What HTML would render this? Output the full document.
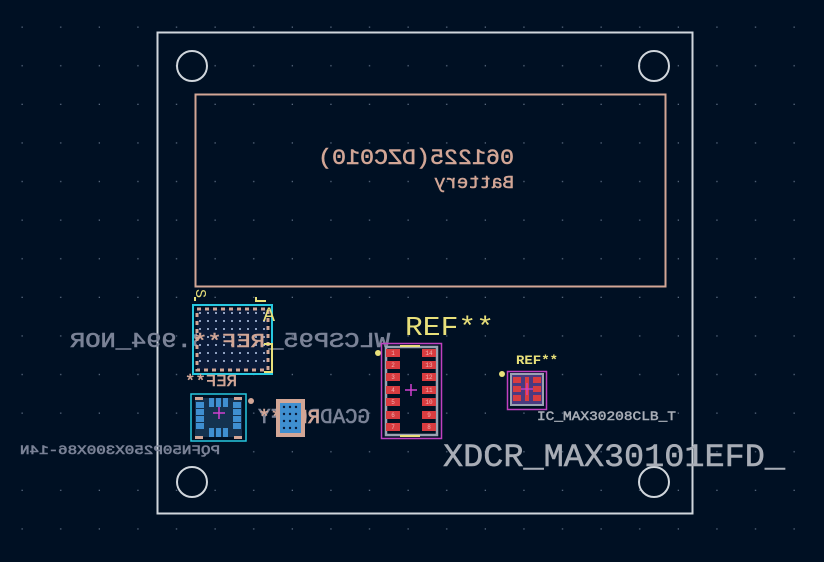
<!DOCTYPE html>
<html><head><style>
html,body{margin:0;padding:0;background:#001023;}
svg{display:block}
text{font-family:"Liberation Mono","DejaVu Sans Mono",monospace;}
</style></head><body>
<svg width="824" height="562" viewBox="0 0 824 562" xmlns="http://www.w3.org/2000/svg">
<defs>
<pattern id="g" x="3" y="8" width="38.6" height="38.6" patternUnits="userSpaceOnUse">
<rect x="18.5" y="18.5" width="1.3" height="1.3" fill="#5a6a80"/>
</pattern>
<pattern id="bd" x="196" y="309" width="8" height="8" patternUnits="userSpaceOnUse">
<rect x="3" y="3" width="2" height="2" fill="#8fa0c0"/>
</pattern>
</defs>
<rect width="824" height="562" fill="#001023"/>
<rect width="824" height="562" fill="url(#g)"/>

<rect x="157.5" y="32.5" width="535" height="481" fill="none" stroke="#d0d6dc" stroke-width="2"/>
<g fill="none" stroke="#d0d6dc" stroke-width="2">
<circle cx="192" cy="66" r="15"/><circle cx="654" cy="66" r="15"/>
<circle cx="192" cy="482" r="15"/><circle cx="654" cy="482" r="15"/>
</g>

<rect x="195.5" y="94.5" width="470" height="192" fill="none" stroke="#d2a696" stroke-width="2"/>
<g fill="#d2a696" stroke="#d2a696" stroke-width="0.5">
<text transform="translate(514,164) scale(-1,1)" font-size="22" textLength="196" lengthAdjust="spacingAndGlyphs">061225(DZC010)</text>
<text transform="translate(514,188) scale(-1,1)" font-size="18" textLength="80" lengthAdjust="spacingAndGlyphs">Battery</text>
</g>

<g fill="#7a8296" stroke="#7a8296" stroke-width="0.6">
<text transform="translate(390,347) scale(-1,1)" font-size="21" textLength="320" lengthAdjust="spacingAndGlyphs">WLCSP95_4.6X3.994_NOR</text>
<text transform="translate(370,423) scale(-1,1)" font-size="21" textLength="112" lengthAdjust="spacingAndGlyphs">GCADR0PFY</text>
<text transform="translate(220,454) scale(-1,1)" font-size="13" textLength="200" lengthAdjust="spacingAndGlyphs">PQFN50P250X300X86-14N</text>
</g>
<g fill="#a8adb6" stroke="#a8adb6" stroke-width="0.5">
<text x="537" y="420" font-size="13" textLength="139" lengthAdjust="spacingAndGlyphs">IC_MAX30208CLB_T</text>
<text x="443" y="466" font-size="32" textLength="342" lengthAdjust="spacingAndGlyphs">XDCR_MAX30101EFD_</text>
</g>

<rect x="193" y="305" width="79" height="69" fill="none" stroke="#27c8e0" stroke-width="2"/>
<rect x="197" y="309" width="71" height="61" fill="#0a1a38" stroke="#d2a696" stroke-width="3" stroke-dasharray="4 4"/>
<rect x="199" y="311" width="67" height="57" fill="url(#bd)"/>
<g fill="none" stroke="#e8e07a" stroke-width="2">
<polyline points="195,301 195,297 "/>
<polyline points="256,297 256,301 266,301"/>
<polyline points="264,344 272,344 272,372 264,372"/>
</g>
<text x="263" y="321" font-size="20" fill="#e8e07a" font-family="Liberation Sans">A</text>
<text transform="translate(196,289) rotate(90)" font-size="15" fill="#e8e07a" font-family="Liberation Sans">S</text>
<g fill="#d2a696" stroke="#d2a696" stroke-width="0.5">
<text transform="translate(265,347) scale(-1,1)" font-size="19" textLength="72" lengthAdjust="spacingAndGlyphs">REF**</text>
<text transform="translate(237,386) scale(-1,1)" font-size="17" textLength="52" lengthAdjust="spacingAndGlyphs">REF**</text>
<text transform="translate(320,423) scale(-1,1)" font-size="19" textLength="62" lengthAdjust="spacingAndGlyphs">REF**</text>
</g>

<rect x="191" y="394" width="55" height="47" fill="none" stroke="#27c8e0" stroke-width="1.5"/>
<rect x="195" y="398" width="47" height="39" fill="#14324f"/>
<g fill="#d2a696">
<rect x="195" y="397" width="8" height="3"/><rect x="234" y="397" width="8" height="3"/>
<rect x="195" y="436" width="8" height="3"/><rect x="234" y="436" width="8" height="3"/>
</g>
<g fill="#3f8fd0">
<rect x="196" y="402" width="8" height="6"/><rect x="196" y="409" width="8" height="6"/><rect x="196" y="416" width="8" height="6"/><rect x="196" y="423" width="8" height="6"/>
<rect x="233" y="402" width="8" height="6"/><rect x="233" y="409" width="8" height="6"/><rect x="233" y="416" width="8" height="6"/><rect x="233" y="423" width="8" height="6"/>
<rect x="209" y="398" width="5" height="9"/><rect x="216" y="398" width="5" height="9"/><rect x="223" y="398" width="5" height="9"/>
<rect x="209" y="428" width="5" height="9"/><rect x="216" y="428" width="5" height="9"/><rect x="223" y="428" width="5" height="9"/>
</g>
<path d="M213 413h12M219 407v12" stroke="#d040d0" stroke-width="1.5"/>
<circle cx="251" cy="401" r="3" fill="#d2a696"/>

<rect x="276" y="399" width="29" height="38" fill="#d2a696"/>
<rect x="280" y="403" width="21" height="30" fill="#3f8fd0"/>
<g fill="#0a1a38">
<circle cx="284" cy="407" r="1.2"/><circle cx="290" cy="407" r="1.2"/><circle cx="296" cy="407" r="1.2"/>
<circle cx="284" cy="414" r="1.2"/><circle cx="290" cy="414" r="1.2"/><circle cx="296" cy="414" r="1.2"/>
<circle cx="284" cy="421" r="1.2"/><circle cx="290" cy="421" r="1.2"/><circle cx="296" cy="421" r="1.2"/>
<circle cx="284" cy="428" r="1.2"/><circle cx="290" cy="428" r="1.2"/><circle cx="296" cy="428" r="1.2"/>
</g>

<text x="405" y="335" font-size="27" fill="#e8e07a" font-family="Liberation Sans" textLength="89" lengthAdjust="spacingAndGlyphs">REF**</text>
<circle cx="378" cy="353" r="3" fill="#e8e07a"/>
<rect x="381.5" y="343.5" width="60" height="95" fill="none" stroke="#c040c0" stroke-width="1.5"/>
<rect x="386" y="347" width="51" height="88" fill="none" stroke="#9aa2b2" stroke-width="2.5"/>
<path d="M400 346h20M400 436h20" stroke="#e8e07a" stroke-width="2"/>
<g fill="#d83c40">
<rect x="386" y="349" width="14" height="8"/><rect x="386" y="361" width="14" height="8"/><rect x="386" y="373" width="14" height="8"/><rect x="386" y="386" width="14" height="8"/><rect x="386" y="398" width="14" height="8"/><rect x="386" y="411" width="14" height="8"/><rect x="386" y="423" width="14" height="8"/>
<rect x="422" y="349" width="14" height="8"/><rect x="422" y="361" width="14" height="8"/><rect x="422" y="373" width="14" height="8"/><rect x="422" y="386" width="14" height="8"/><rect x="422" y="398" width="14" height="8"/><rect x="422" y="411" width="14" height="8"/><rect x="422" y="423" width="14" height="8"/>
</g>
<g fill="#f0b0b0" font-size="6" font-family="Liberation Sans" text-anchor="middle">
<text x="393" y="355">1</text><text x="393" y="367">2</text><text x="393" y="379">3</text><text x="393" y="392">4</text><text x="393" y="404">5</text><text x="393" y="417">6</text><text x="393" y="429">7</text>
<text x="429" y="355">14</text><text x="429" y="367">13</text><text x="429" y="379">12</text><text x="429" y="392">11</text><text x="429" y="404">10</text><text x="429" y="417">9</text><text x="429" y="429">8</text>
</g>
<path d="M405 390h12M411 384v12" stroke="#d040d0" stroke-width="1.5"/>

<text x="516" y="364" font-size="13" font-weight="bold" fill="#e8e07a" font-family="Liberation Sans" textLength="42" lengthAdjust="spacingAndGlyphs">REF**</text>
<circle cx="502" cy="374" r="3" fill="#e8e07a"/>
<rect x="507.5" y="371.5" width="39" height="38" fill="none" stroke="#c040c0" stroke-width="1.5"/>
<rect x="511" y="374" width="32" height="31" fill="#4a3a80" stroke="#9aa2b2" stroke-width="2"/>
<g fill="#d83c40">
<rect x="513" y="377" width="8" height="6"/><rect x="513" y="386" width="8" height="6"/><rect x="513" y="395" width="8" height="6"/>
<rect x="533" y="377" width="8" height="6"/><rect x="533" y="386" width="8" height="6"/><rect x="533" y="395" width="8" height="6"/>
<rect x="525" y="377" width="4" height="24"/>
</g>
<path d="M521 389h12M527 383v12" stroke="#d040d0" stroke-width="1.2"/>
</svg>
</body></html>
